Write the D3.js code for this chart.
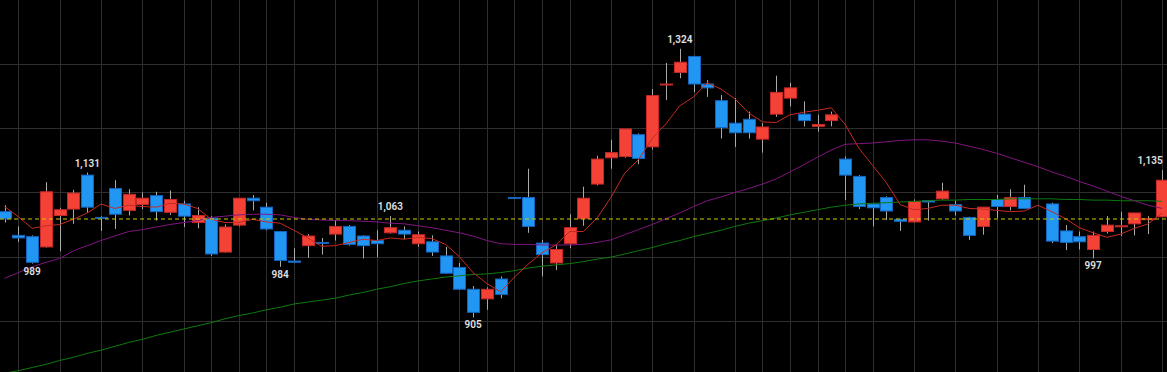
<!DOCTYPE html>
<html>
<head>
<meta charset="utf-8">
<script src="https://cdn.jsdelivr.net/npm/d3@7"></script>
<style>
  html, body { margin: 0; padding: 0; background: #000; overflow: hidden; }
</style>
</head>
<body>
<div id="chart"></div>
<script>
// daily candles
var opens  = [1070,1033,1031,1015,1064,1074,1127,1061,1106,1072,1081,1095,1069,1082,1053,1060,1007,1049,1091,1077,
              1039,993,1017,1022,1035,1047,1032,1025,1037,1041,1020,1023,1001,983,949,934,965,1092,1092,1021,
              990,1020,1059,1113,1154,1156,1190,1171,1269,1287,1312,1269,1243,1208,1214,1183,1222,1247,1222,1203,
              1212,1152,1125,1082,1092,1058,1054,1087,1090,1081,1061,1047,1089,1078,1092,1080,1082,1040,1031,1011,
              1039,1048,1051,1059,1062];
var highs  = [1080,1047,1033,1116,1076,1104,1131,1063,1119,1105,1100,1101,1103,1087,1077,1063,1050,1091,1096,1084,
              1040,1013,1035,1029,1057,1049,1033,1041,1063,1047,1039,1033,1015,990,954,952,969,1092,1137,1026,
              1018,1066,1109,1157,1182,1199,1192,1261,1302,1324,1313,1275,1252,1247,1226,1208,1282,1271,1242,1221,
              1226,1156,1127,1083,1094,1059,1089,1087,1115,1087,1062,1077,1096,1105,1112,1080,1084,1049,1039,1039,
              1063,1070,1068,1063,1135];
var lows   = [1053,1023,989,1014,1008,1051,1068,1040,1043,1064,1074,1056,1065,1046,1044,1001,1006,1047,1072,1041,
              984,990,998,1003,1025,1017,997,999,1036,1027,1015,1001,973,948,905,917,935,1091,1037,969,
              979,1013,1048,1111,1137,1154,1144,1167,1244,1278,1256,1249,1184,1171,1184,1162,1218,1234,1203,1195,
              1203,1088,1074,1047,1057,1040,1053,1056,1088,1064,1026,1034,1060,1072,1074,1080,1021,1010,1011,997,
              1036,1032,1033,1035,1062];
var closes = [1059,1029,991,1101,1073,1099,1077,1060,1066,1097,1091,1070,1089,1063,1064,1004,1046,1091,1087,1043,
              994,991,1032,1021,1047,1019,1017,1020,1045,1035,1034,1007,974,949,913,949,941,1091,1047,1003,
              1011,1045,1091,1152,1162,1199,1153,1251,1269,1303,1269,1263,1201,1193,1193,1202,1256,1263,1212,1206,
              1221,1127,1078,1076,1071,1055,1086,1085,1102,1071,1033,1077,1078,1092,1075,1080,1024,1022,1023,1033,
              1049,1048,1068,1059,1119];

// moving averages (short / middle / long)
var maShort = [1078,1062,1044,1048,1050,1058,1068,1082,1075,1080,1078,1077,1083,1082,1075,1058,1053,1053,1058,1054,
               1052,1041,1029,1016,1017,1022,1027,1025,1029,1027,1030,1028,1019,1000,975,958,945,968,988,1006,
               1018,1039,1039,1060,1092,1130,1151,1184,1207,1235,1249,1271,1261,1246,1224,1210,1209,1221,1225,1228,
               1232,1206,1169,1142,1115,1081,1073,1075,1080,1080,1075,1074,1072,1070,1071,1080,1070,1059,1045,1037,
               1030,1035,1044,1051,1068];
var maMid   = [966,975,984,991,997,1009,1017,1025,1032,1039,1042,1046,1050,1053,1056,1061,1063,1065,1066,1066,
               1065,1061,1058,1057,1056,1056,1055,1054,1052,1051,1048,1045,1041,1037,1032,1025,1020,1019,1019,1018,
               1018,1018,1019,1022,1026,1034,1042,1050,1059,1068,1078,1087,1093,1100,1106,1113,1121,1132,1143,1155,
               1166,1175,1176,1177,1179,1181,1182,1182,1180,1177,1172,1167,1161,1154,1147,1140,1132,1125,1117,1110,
               1102,1094,1087,1080,1075];
var maLong  = [818,822,827,832,838,843,849,854,860,866,871,877,882,887,892,897,903,908,912,917,
               921,926,929,932,935,940,944,949,953,958,962,965,968,970,972,973,975,978,982,985,
               987,989,992,996,999,1004,1009,1014,1020,1025,1031,1036,1041,1047,1052,1056,1060,1065,1069,1073,
               1077,1080,1082,1083,1084,1085,1086,1087,1088,1088,1089,1089,1089,1090,1090,1090,1090,1089,1089,1088,
               1088,1087,1087,1087,1086];

var prevClose = 1058.6;
var priceTicks = [900, 1000, 1100, 1200, 1300];
var timeTicks = [1,4,7,10,13,15,17,19,21,24,27,30,33,35,37,39,41,44,47,50,53,55,57,59,61,63,66,69,72,75,78,81,84];

// high / low markers
var markIdx  = [2, 6, 20, 28, 34, 49, 79, 84];
var markKind = ["low","high","low","high","low","high","low","high"];

var width = 1167, height = 372;
var upFill = "#f44336", upLine = "#c62828";
var downFill = "#2196f3", downLine = "#1565c0";

var svg = d3.select("#chart").append("svg")
  .attr("width", width).attr("height", height)
  .style("display", "block").style("background", "#000");

var x = d3.scaleLinear().domain([0, 84]).range([4.6, 1162]);
var y = d3.scaleLinear().domain([820, 1400]).range([height, 0]);
var bodyW = 12;

// grid
svg.append("g")
  .call(d3.axisLeft(y).tickValues(priceTicks).tickSize(-width).tickFormat(""))
  .call(function(g) { g.select(".domain").remove(); })
  .selectAll("line").attr("stroke", "#2e2e2e").attr("shape-rendering", "crispEdges");

svg.append("g").attr("transform", "translate(0," + height + ")")
  .call(d3.axisBottom(x).tickValues(timeTicks).tickSize(-height).tickFormat(""))
  .call(function(g) { g.select(".domain").remove(); })
  .selectAll("line").attr("stroke", "#2e2e2e").attr("shape-rendering", "crispEdges");

var idx = d3.range(closes.length);

// candles
var candle = svg.append("g").selectAll("g").data(idx.filter(function(i) { return highs[i] > lows[i]; }))
  .enter().append("g");

candle.append("line")
  .attr("x1", function(i) { return Math.round(x(i)) + 0.5; })
  .attr("x2", function(i) { return Math.round(x(i)) + 0.5; })
  .attr("y1", function(i) { return y(highs[i]); })
  .attr("y2", function(i) { return y(lows[i]); })
  .attr("stroke", "#aaa").attr("stroke-width", 1);

candle.append("rect")
  .attr("x", function(i) { return Math.round(x(i)) - bodyW / 2 + 0.5; })
  .attr("y", function(i) { return y(Math.max(opens[i], closes[i])); })
  .attr("width", bodyW)
  .attr("height", function(i) { return Math.max(1, Math.abs(y(opens[i]) - y(closes[i]))); })
  .attr("fill", function(i) { return closes[i] >= opens[i] ? upFill : downFill; })
  .attr("stroke", function(i) { return closes[i] >= opens[i] ? upLine : downLine; })
  .attr("stroke-width", 1);

// moving averages
function maLine(vals, color) {
  svg.append("path")
    .datum(idx)
    .attr("fill", "none")
    .attr("stroke", color)
    .attr("stroke-width", 1)
    .attr("d", d3.line().x(function(i) { return x(i); }).y(function(i) { return y(vals[i]); }));
}
maLine(maLong, "#0f7a0f");
maLine(maMid, "#80167f");
maLine(maShort, "#c62a22");

// previous close
svg.append("line")
  .attr("x1", 0).attr("x2", width)
  .attr("y1", Math.round(y(prevClose))).attr("y2", Math.round(y(prevClose)))
  .attr("stroke", "#cccc00").attr("stroke-width", 1.2).attr("stroke-dasharray", "4,3");

// high / low labels
var fmt = d3.format(",");
svg.append("g").selectAll("text").data(markIdx).enter().append("text")
  .attr("x", function(i) { return Math.min(x(i), width - 17); })
  .attr("y", function(i, k) {
    return markKind[k] === "high" ? y(highs[i]) - 6 : y(lows[i]) + 11;
  })
  .attr("text-anchor", "middle")
  .attr("font-family", "Roboto, 'Noto Sans', sans-serif")
  .attr("font-size", 10)
  .attr("font-weight", 600)
  .attr("fill", "#e0e0e0")
  .text(function(i, k) { return fmt(markKind[k] === "high" ? highs[i] : lows[i]); });
</script>
</body>
</html>
